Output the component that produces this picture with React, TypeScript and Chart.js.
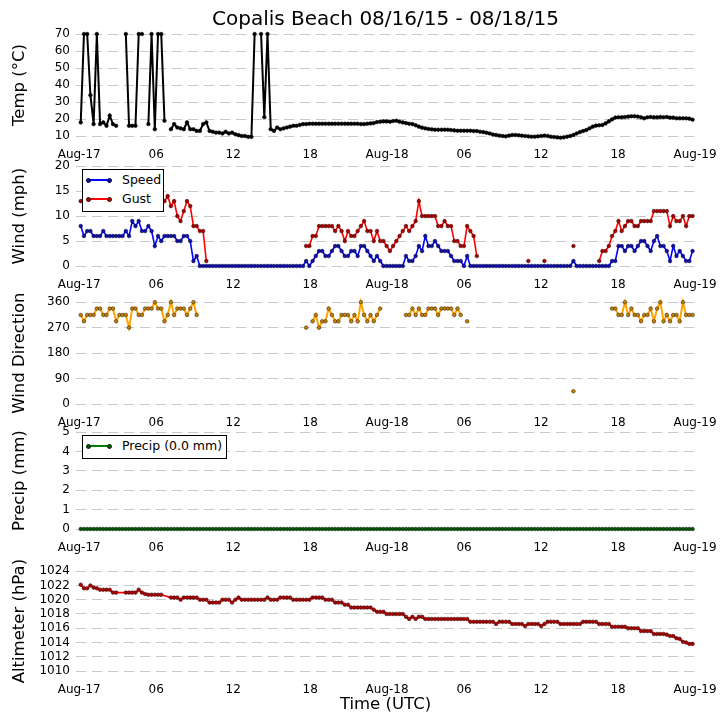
import { useEffect, useRef } from "react"
import { Chart, registerables } from "chart.js"

Chart.register(...registerables)

const FONT = "'DejaVu Sans', Verdana, sans-serif"
Chart.defaults.font.family = FONT

// station reports every ~15 min, x is hours since Aug-17 00:00 UTC
const FIRST_HOUR = 0.12
const STEP_HOURS = 0.251

const TICK_HOURS  = [0, 6, 12, 18, 24, 30, 36, 42, 48]
const TICK_LABELS = ["Aug-17", "06", "12", "18", "Aug-18", "06", "12", "18", "Aug-19"]

const TEMP = [
  18, 70, 70, 34, 17, 70, 17, 18, 16, 22, 17, 16, null, null, 70, 16, 16, 16, 70, 70,
  null, 17, 70, 14, 70, 70, 19, null, 14, 17, 15, 14.5, 14, 18, 14, 14, 13, 13, 17, 18,
  13, 12.5, 12, 12, 11.5, 12.5, 11.5, 12, 11, 10.5, 10, 10, 9.5, 9.5, 70, null, 70, 21, 70, 14,
  13, 15, 14, 14.5, 15, 15.5, 16, 16, 16.5, 17.0, 17.0, 17.2, 17.2, 17.2, 17.2, 17.2, 17.2, 17.2, 17.2, 17.2,
  17.2, 17.2, 17.2, 17.2, 17.2, 17.2, 17.2, 17.0, 17.0, 17.2, 17.4, 17.6, 18.2, 18.4, 18.6, 18.6, 18.4, 18.8, 19.0, 18.4,
  18.0, 17.6, 17.2, 17.0, 16.3, 15.5, 14.9, 14.5, 14.1, 13.9, 13.7, 13.7, 13.7, 13.7, 13.7, 13.5, 13.3, 13.1, 13.1, 13.1,
  13.1, 13.1, 12.9, 12.9, 12.5, 12.3, 11.9, 11.5, 10.9, 10.6, 10.2, 10.0, 9.8, 10.2, 10.6, 10.6, 10.4, 10.2, 10.0, 9.8,
  9.6, 9.6, 9.8, 10.0, 10.2, 10.0, 9.6, 9.4, 9.2, 9.0, 9.2, 9.6, 10.0, 10.6, 11.5, 12.3, 12.9, 13.5, 14.5, 15.5,
  16.1, 16.3, 16.5, 17.4, 18.6, 19.8, 20.8, 21.0, 21.0, 21.2, 21.4, 21.6, 21.6, 21.4, 21.0, 20.4, 21.0, 21.2, 21.0, 21.0,
  21.2, 21.0, 21.2, 20.8, 20.8, 20.4, 20.4, 20.4, 20.4, 20.2, 19.6,
]

const SPEED = [
  8, 6, 7, 7, 6, 6, 6, 7, 6, 6, 6, 6, 6, 6, 7, 6, 9, 8, 9, 7,
  7, 8, 7, 4, 6, 5, 6, 6, 6, 6, 5, 5, 6, 6, 5, 1, 2, 0, 0, 0,
  0, 0, 0, 0, 0, 0, 0, 0, 0, 0, 0, 0, 0, 0, 0, 0, 0, 0, 0, 0,
  0, 0, 0, 0, 0, 0, 0, 0, 0, 0, 1, 0, 1, 2, 3, 3, 2, 2, 3, 4,
  4, 3, 2, 2, 3, 3, 2, 4, 4, 3, 2, 1, 2, 1, 0, 0, 0, 0, 0, 0,
  0, 2, 1, 1, 2, 4, 3, 6, 4, 4, 5, 4, 3, 3, 3, 2, 1, 1, 1, 0,
  2, 0, 0, 0, 0, 0, 0, 0, 0, 0, 0, 0, 0, 0, 0, 0, 0, 0, 0, 0,
  0, 0, 0, 0, 0, 0, 0, 0, 0, 0, 0, 0, 0, 1, 0, 0, 0, 0, 0, 0,
  0, 0, 0, 0, 0, 1, 1, 4, 4, 3, 4, 4, 3, 4, 5, 5, 4, 3, 5, 6,
  4, 4, 3, 1, 4, 2, 3, 2, 1, 1, 3,
]

const GUST = [
  13, 13, 12, 13, 12, 12, 13, 12, 12, 13, 12, 12, 13, 13, 14, 13, 14, 13, 13, 12,
  13, 12, 12, 13, 13, 13, 13, 14, 12, 13, 10, 9, 11, 13, 12, 8, 8, 7, 7, 1,
  null, null, null, null, null, null, null, null, null, null, null, null, null, null, null, null, null, null, null, null,
  null, null, null, null, null, null, null, null, null, null, 4, 4, 6, 6, 8, 8, 8, 8, 8, 7,
  8, 7, 5, 7, 6, 6, 7, 8, 9, 7, 7, 5, 7, 5, 5, 4, 3, 4, 5, 6,
  7, 8, 7, 8, 9, 13, 10, 10, 10, 10, 10, 8, 8, 9, 8, 8, 5, 5, 4, 4,
  8, 7, 6, 2, null, null, null, null, null, null, null, null, null, null, null, null, null, null, null, 1,
  null, null, null, null, 1, null, null, null, null, null, null, null, null, 4, null, null, null, null, null, null,
  null, 1, 3, 3, 4, 6, 7, 9, 7, 8, 9, 9, 8, 8, 9, 9, 9, 9, 11, 11,
  11, 11, 11, 8, 10, 9, 9, 10, 8, 10, 10,
]

const DIRECTION = [
  315, 292.5, 315, 315, 315, 337.5, 337.5, 315, 315, 337.5, 337.5, 292.5, 315, 315, 315, 270, 337.5, 337.5, 315, 315,
  337.5, 337.5, 337.5, 360, 337.5, 337.5, 292.5, 315, 360, 315, 337.5, 337.5, 337.5, 315, 337.5, 360, 315, null, null, null,
  null, null, null, null, null, null, null, null, null, null, null, null, null, null, null, null, null, null, null, null,
  null, null, null, null, null, null, null, null, null, null, 270, null, 292.5, 315, 270, 292.5, 292.5, 337.5, 315, 292.5,
  292.5, 315, 315, 315, 292.5, 315, 292.5, 360, 315, 292.5, 315, 292.5, 315, 337.5, null, null, null, null, null, null,
  null, 315, 315, 337.5, 315, 337.5, 315, 315, 337.5, 337.5, 337.5, 315, 337.5, 337.5, 337.5, 337.5, 315, 337.5, 315, null,
  292.5, null, null, null, null, null, null, null, null, null, null, null, null, null, null, null, null, null, null, null,
  null, null, null, null, null, null, null, null, null, null, null, null, null, 45, null, null, null, null, null, null,
  null, null, null, null, null, 337.5, 337.5, 315, 315, 360, 315, 337.5, 315, 315, 292.5, 315, 315, 337.5, 292.5, 337.5,
  360, 292.5, 315, 292.5, 315, 315, 292.5, 360, 315, 315, 315,
]

const PRECIP = [
  0, 0, 0, 0, 0, 0, 0, 0, 0, 0, 0, 0, 0, 0, 0, 0, 0, 0, 0, 0,
  0, 0, 0, 0, 0, 0, 0, 0, 0, 0, 0, 0, 0, 0, 0, 0, 0, 0, 0, 0,
  0, 0, 0, 0, 0, 0, 0, 0, 0, 0, 0, 0, 0, 0, 0, 0, 0, 0, 0, 0,
  0, 0, 0, 0, 0, 0, 0, 0, 0, 0, 0, 0, 0, 0, 0, 0, 0, 0, 0, 0,
  0, 0, 0, 0, 0, 0, 0, 0, 0, 0, 0, 0, 0, 0, 0, 0, 0, 0, 0, 0,
  0, 0, 0, 0, 0, 0, 0, 0, 0, 0, 0, 0, 0, 0, 0, 0, 0, 0, 0, 0,
  0, 0, 0, 0, 0, 0, 0, 0, 0, 0, 0, 0, 0, 0, 0, 0, 0, 0, 0, 0,
  0, 0, 0, 0, 0, 0, 0, 0, 0, 0, 0, 0, 0, 0, 0, 0, 0, 0, 0, 0,
  0, 0, 0, 0, 0, 0, 0, 0, 0, 0, 0, 0, 0, 0, 0, 0, 0, 0, 0, 0,
  0, 0, 0, 0, 0, 0, 0, 0, 0, 0, 0,
]

const ALTIMETER = [
  1022.1, 1021.6, 1021.6, 1022.0, 1021.7, 1021.6, 1021.4, 1021.4, 1021.4, 1021.4, 1021.0, 1021.0, null, null, 1021.0, 1021.0, 1021.0, 1021.0, 1021.4, 1021.0,
  1020.8, 1020.7, 1020.7, 1020.7, 1020.7, 1020.7, null, null, 1020.3, 1020.3, 1020.3, 1020.0, 1020.3, 1020.3, 1020.3, 1020.3, 1020.3, 1020.0, 1020.0, 1020.0,
  1019.6, 1019.6, 1019.6, 1019.6, 1020.0, 1020.0, 1020.0, 1019.6, 1020.0, 1020.3, 1020.0, 1020.0, 1020.0, 1020.0, 1020.0, 1020.0, 1020.0, 1020.0, 1020.3, 1020.0,
  1020.0, 1020.0, 1020.3, 1020.3, 1020.3, 1020.3, 1020.0, 1020.0, 1020.0, 1020.0, 1020.0, 1020.0, 1020.3, 1020.3, 1020.3, 1020.3, 1020.0, 1020.0, 1020.0, 1019.6,
  1019.6, 1019.6, 1019.3, 1019.3, 1018.9, 1018.9, 1018.9, 1018.9, 1018.9, 1018.9, 1018.9, 1018.6, 1018.3, 1018.3, 1018.3, 1018.0, 1018.0, 1018.0, 1018.0, 1018.0,
  1018.0, 1017.6, 1017.3, 1017.6, 1017.3, 1017.6, 1017.6, 1017.3, 1017.3, 1017.3, 1017.3, 1017.3, 1017.3, 1017.3, 1017.3, 1017.3, 1017.3, 1017.3, 1017.3, 1017.3,
  1017.3, 1016.9, 1016.9, 1016.9, 1016.9, 1016.9, 1016.9, 1016.9, 1016.9, 1016.6, 1016.9, 1016.9, 1016.9, 1016.9, 1016.6, 1016.6, 1016.6, 1016.6, 1016.3, 1016.6,
  1016.6, 1016.6, 1016.6, 1016.3, 1016.6, 1016.9, 1016.9, 1016.9, 1016.9, 1016.6, 1016.6, 1016.6, 1016.6, 1016.6, 1016.6, 1016.6, 1016.9, 1016.9, 1016.9, 1016.9,
  1016.9, 1016.6, 1016.6, 1016.6, 1016.6, 1016.2, 1016.2, 1016.2, 1016.2, 1016.2, 1016.0, 1016.0, 1016.0, 1016.0, 1015.6, 1015.6, 1015.6, 1015.6, 1015.2, 1015.2,
  1015.2, 1015.2, 1015.1, 1014.9, 1014.9, 1014.6, 1014.5, 1014.1, 1014.0, 1013.8, 1013.8,
]

const points = (values: (number | null)[]) =>
  values.map((y, i) => ({ x: FIRST_HOUR + i * STEP_HOURS, y }))

const series = (label: string, values: (number | null)[], color: string, dot: string, edge: string,
                width = 1.6, spanGaps = false) => ({
  label,
  data: points(values),
  borderColor: color,
  borderWidth: width,
  pointRadius: 1.8,
  pointBackgroundColor: dot,
  pointBorderColor: edge,
  pointBorderWidth: 0.6,
  spanGaps,
  clip: false as const,
  tension: 0,
})

interface PanelProps {
  top: number
  height: number
  padTop: number
  axisHeight: number
  yTitle: string
  yMin: number
  yMax: number
  yStep: number
  datasets: any[]
  title?: string
  xTitle?: string
}

function Panel({ top, height, padTop, axisHeight, yTitle, yMin, yMax, yStep, datasets, title, xTitle }: PanelProps) {
  const canvasRef = useRef<HTMLCanvasElement>(null)

  useEffect(() => {
    if (!canvasRef.current) return
    const chart = new Chart(canvasRef.current, {
      type: "line",
      data: { datasets },
      options: {
        animation: false,
        responsive: true,
        maintainAspectRatio: false,
        layout: { padding: { top: padTop, right: 31, left: 0, bottom: 0 } },
        plugins: {
          legend: { display: false },
          tooltip: { enabled: false },
          title: {
            display: !!title,
            text: title ?? "",
            fullSize: false,
            color: "#000",
            font: { family: FONT, size: 20, weight: "normal" },
            padding: { top: 8, bottom: 2 },
          },
        },
        scales: {
          x: {
            type: "linear",
            min: -0.25,
            max: 48,
            grid: { display: false },
            border: { display: false },
            ticks: {
              color: "#000",
              font: { family: FONT, size: 12 },
              padding: 4,
              maxRotation: 0,
              autoSkip: false,
              callback: (v) => TICK_LABELS[TICK_HOURS.indexOf(Number(v))] ?? "",
            },
            afterBuildTicks: (s) => { s.ticks = TICK_HOURS.map(value => ({ value })) },
            afterFit: (s) => { s.height = axisHeight },
            title: {
              display: !!xTitle,
              text: xTitle ?? "",
              color: "#000",
              font: { family: FONT, size: 16.5 },
              padding: { top: 0, bottom: 10 },
            },
          },
          y: {
            min: yMin,
            max: yMax,
            ticks: {
              stepSize: yStep,
              autoSkip: false,
              color: "#000",
              font: { family: FONT, size: 12 },
              padding: 6,
              callback: (v) => String(v),
            },
            grid: { color: "#c8c8c8", lineWidth: 1, drawTicks: false },
            border: { display: false, dash: [10, 6] },
            afterFit: (s) => { s.width = 76 },
            title: {
              display: true,
              text: yTitle,
              color: "#000",
              font: { family: FONT, size: 16.5 },
              padding: { top: 10, bottom: 0 },
            },
          },
        },
      },
    })
    return () => { chart.destroy() }
  }, [])

  return (
    <div style={{ position: "absolute", left: 0, top, width: 726, height }}>
      <canvas ref={canvasRef} />
    </div>
  )
}

interface LegendEntry { label: string; color: string; dot: string; edge: string }

function LegendBox({ left, top, width, height, entries }: { left: number; top: number; width: number; height: number; entries: LegendEntry[] }) {
  return (
    <div style={{
      position: "absolute", left, top, width, height, boxSizing: "border-box",
      background: "#fff", border: "1.5px solid #000", fontFamily: FONT, fontSize: 12.5, color: "#000",
    }}>
      {entries.map((e, k) => {
        const cy = 10 + k * 19
        return (
          <div key={e.label}>
            <div style={{ position: "absolute", left: 5, top: cy - 1, width: 21, height: 2, background: e.color }} />
            {[3, 24].map(x => (
              <div key={x} style={{
                position: "absolute", left: x, top: cy - 2.5, width: 5, height: 5, boxSizing: "border-box",
                borderRadius: "50%", background: e.dot, border: `0.7px solid ${e.edge}`,
              }} />
            ))}
            <div style={{ position: "absolute", left: 39, top: cy - 8, height: 16, lineHeight: "16px", whiteSpace: "nowrap" }}>
              {e.label}
            </div>
          </div>
        )
      })}
    </div>
  )
}

const BLUE  = { color: "#0000ff", dot: "#1010b0", edge: "#000040" }
const RED   = { color: "#ff0000", dot: "#b00000", edge: "#400000" }
const GREEN = { color: "#008000", dot: "#005a00", edge: "#002000" }

export default function App() {
  return (
    <div style={{ position: "absolute", left: 0, top: 0, width: 726, height: 725, background: "#fff", overflow: "hidden" }}>
      <Panel top={0} height={162} padTop={0} axisHeight={26} yTitle="Temp (°C)" yMin={10} yMax={70} yStep={10}
        title="Copalis Beach 08/16/15 - 08/18/15"
        datasets={[series("Temp", TEMP, "#000", "#000", "#000", 2)]} />
      <Panel top={153} height={139} padTop={10} axisHeight={26} yTitle="Wind (mph)" yMin={0} yMax={20} yStep={5}
        datasets={[
          series("Speed", SPEED, BLUE.color, BLUE.dot, BLUE.edge),
          series("Gust", GUST, RED.color, RED.dot, RED.edge),
        ]} />
      <Panel top={289} height={141} padTop={10} axisHeight={26} yTitle="Wind Direction" yMin={0} yMax={360} yStep={90}
        datasets={[series("Direction", DIRECTION, "#ffa500", "#c98200", "#3a2800", 2)]} />
      <Panel top={419} height={136} padTop={10} axisHeight={26} yTitle="Precip (mm)" yMin={0} yMax={5} yStep={1}
        datasets={[series("Precip", PRECIP, GREEN.color, GREEN.dot, GREEN.edge, 2, true)]} />
      <Panel top={558} height={167} padTop={10} axisHeight={54} yTitle="Altimeter (hPa)" yMin={1010} yMax={1024} yStep={2}
        xTitle="Time (UTC)"
        datasets={[series("Altimeter", ALTIMETER, RED.color, RED.dot, RED.edge, 1.6, true)]} />

      <LegendBox left={82} top={169} width={82} height={43} entries={[
        { label: "Speed", ...BLUE },
        { label: "Gust", ...RED },
      ]} />
      <LegendBox left={82} top={435} width={145} height={24} entries={[
        { label: "Precip (0.0 mm)", ...GREEN },
      ]} />
    </div>
  )
}
